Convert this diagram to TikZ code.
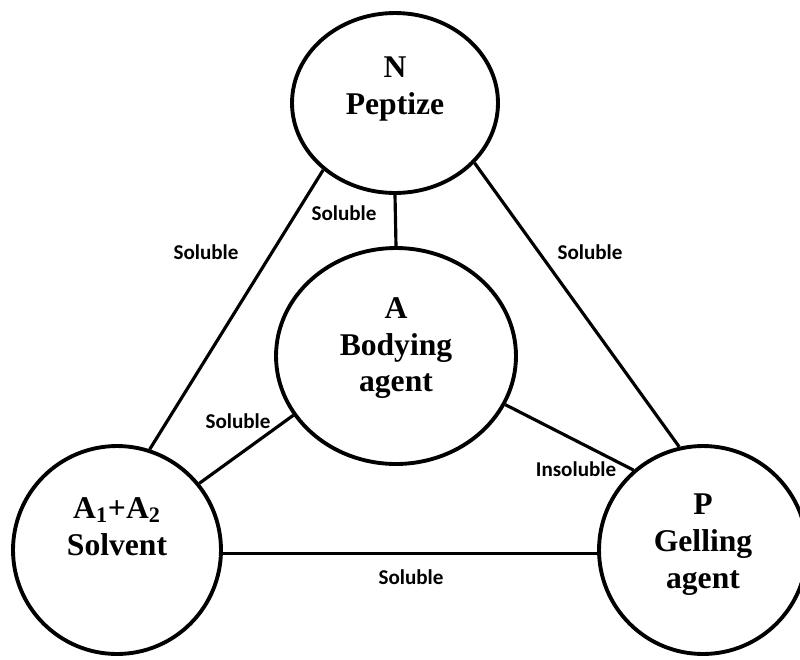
\documentclass[tikz,border=0pt]{standalone}
\usepackage{fontspec}
\setmainfont{Liberation Serif}
\newfontfamily\lblfont{Carlito}
\usetikzlibrary{shapes.geometric}

\begin{document}
\begin{tikzpicture}[x=0.02cm, y=-0.02cm,
  oval/.style={draw, ellipse, line width=2.2pt, inner sep=0pt, align=center, font=\fontsize{18}{21}\selectfont\bfseries},
  bubble/.style={draw, circle, line width=2.2pt, inner sep=0pt, minimum size=4.16cm, align=center, font=\fontsize{18}{21}\selectfont\bfseries},
  lab/.style={font=\lblfont\fontsize{12}{14}\selectfont\bfseries},
  link/.style={line width=1.8pt}]
\useasboundingbox (0,0) rectangle (800,659);
\node[oval, minimum width=4.12cm, minimum height=3.6cm, text depth=20pt] (pep) at (395,103) {N\\Peptize};
\node[oval, minimum width=4.8cm, minimum height=4.32cm, text depth=13pt] (bod) at (396,356) {A\\Bodying\\agent};
\node[bubble, text depth=27pt] (sol) at (117,550) {A\textsubscript{1}+A\textsubscript{2}\\Solvent};
\node[bubble, text depth=10pt] (gel) at (703,550) {P\\Gelling\\agent};
\node[lab] (lsn) at (206,252) {Soluble};
\node[lab] (lba) at (344,213) {Soluble};
\node[lab] (lgn) at (590,252) {Soluble};
\node[lab] (lsa) at (238,421) {Soluble};
\node[lab] (lga) at (576,469) {Insoluble};
\node[lab] (lsg) at (411,577) {Soluble};
\draw[link] (pep.223.5) -- (sol.72.6);
\draw[link] (pep.323) -- (gel.103.8);
\draw[link] (pep.south) -- (bod.north);
\draw[link] (bod.210) -- (sol.39.6);
\draw[link] (bod.336.4) -- (gel.131.4);
\draw[link] (sol.-2.8) -- (gel.182.8);
\end{tikzpicture}
\end{document}
